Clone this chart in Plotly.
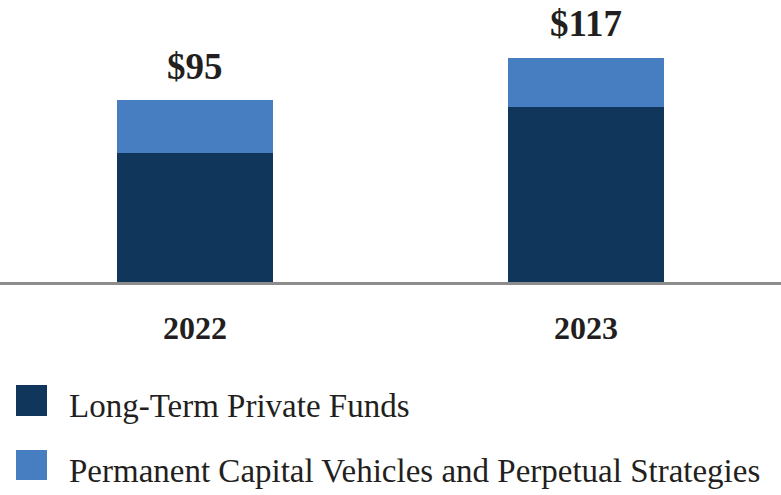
import plotly.graph_objects as go

years = ["2022", "2023"]
long_term = [67.5, 91.5]
permanent = [27.5, 25.5]
totals = [95, 117]
total_labels = ["$95", "$117"]
series_names = ["Long-Term Private Funds", "Permanent Capital Vehicles and Perpetual Strategies"]
colors = ["#10365b", "#477ec1"]

W, H = 781, 495
plot_bottom_px = 282
k = 1.915  # px per unit
ymax = plot_bottom_px / k

fig = go.Figure()
fig.add_trace(go.Bar(x=years, y=long_term, name=series_names[0], marker_color=colors[0], marker_line_width=0))
fig.add_trace(go.Bar(x=years, y=permanent, name=series_names[1], marker_color=colors[1], marker_line_width=0))

font_family = "Liberation Serif, Times New Roman, serif"
txt_color = "#231f20"

annotations = []
for i, (yr, tot, lab) in enumerate(zip(years, totals, total_labels)):
    annotations.append(dict(x=i, y=tot, xref="x", yref="y", text="<b>%s</b>" % lab,
                            showarrow=False, yanchor="middle", yshift=34,
                            font=dict(family=font_family, size=37, color=txt_color)))
    annotations.append(dict(x=i, y=0, xref="x", yref="y", text="<b>%s</b>" % yr,
                            showarrow=False, yanchor="middle", yshift=-46,
                            font=dict(family=font_family, size=32, color=txt_color)))

shapes = []
legend_rows = [(385, 416, 406), (450, 480, 471)]
for (p0, p1, pc), name, col in zip(legend_rows, series_names, colors):
    shapes.append(dict(type="rect", xref="paper", yref="paper",
                       x0=16 / W, x1=47 / W,
                       y0=(plot_bottom_px - p1) / plot_bottom_px, y1=(plot_bottom_px - p0) / plot_bottom_px,
                       fillcolor=col, line=dict(width=0)))
    annotations.append(dict(x=67 / W, y=(plot_bottom_px - pc) / plot_bottom_px, xref="paper", yref="paper",
                            text=name, showarrow=False, xanchor="left", yanchor="middle",
                            font=dict(family=font_family, size=33, color=txt_color)))

fig.update_layout(
    width=W, height=H,
    barmode="stack", bargap=0.6,
    margin=dict(l=0, r=0, t=0, b=H - plot_bottom_px),
    plot_bgcolor="white", paper_bgcolor="white",
    showlegend=False,
    xaxis=dict(type="category", showticklabels=False, showgrid=False, zeroline=False, showline=True,
               linecolor="#8c8c8c", linewidth=3, ticks="", range=[-0.5, 1.5]),
    yaxis=dict(visible=False, range=[0, ymax], showgrid=False, zeroline=False),
    annotations=annotations, shapes=shapes,
)

fig.write_html("out.html", config={"displayModeBar": False},
               post_script="document.body.style.margin='0';")
